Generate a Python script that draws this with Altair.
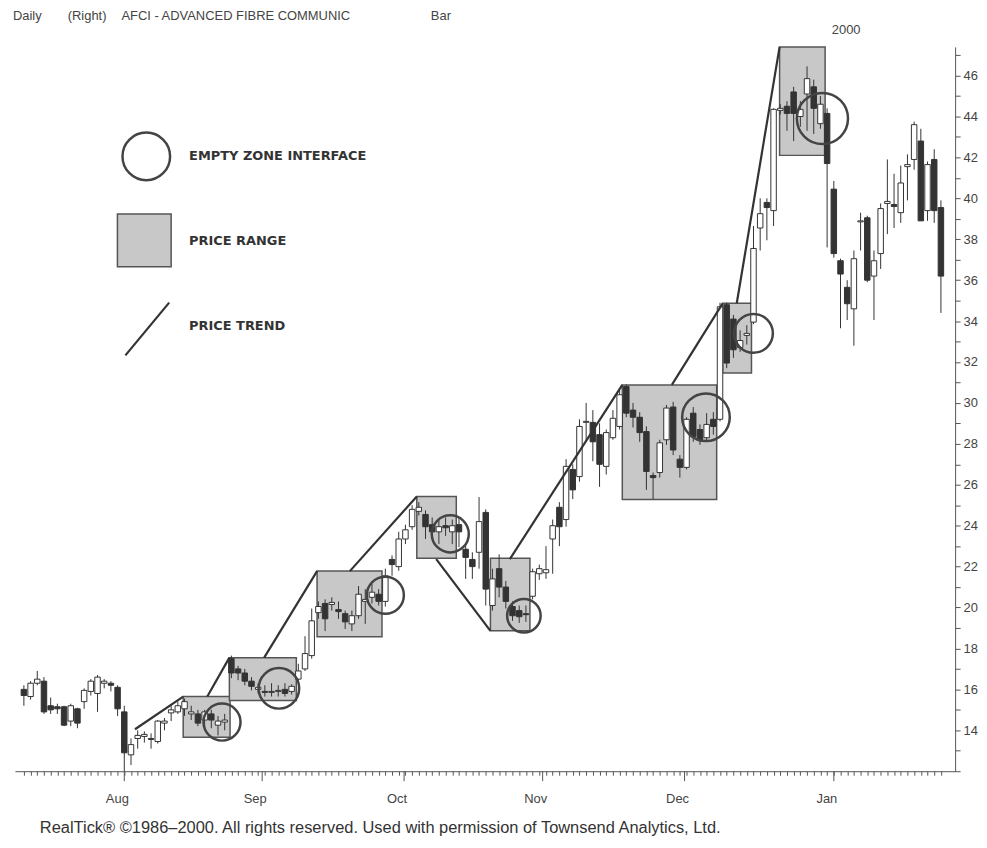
import math
import altair as alt
import pandas as pd

# ---------------- data ----------------
day_index = list(range(138))
opens = [16.0, 15.65, 16.3, 16.4, 15.2, 15.15, 15.15, 14.45, 15.05, 15.4,
         15.9, 15.8, 16.3, 16.3, 16.1, 14.9, 12.8, 13.6, 13.7, 13.55,
         13.45, 14.35, 14.85, 14.9, 15.05, 14.8, 14.8, 14.5, 14.8, 14.25,
         14.4, 17.5, 17.0, 16.8, 16.4, 16.0, 15.9, 15.85, 15.9, 16.0,
         15.9, 16.5, 17.0, 17.65, 19.75, 20.2, 20.15, 19.9, 19.7, 19.2,
         19.6, 20.3, 20.5, 20.65, 20.3, 22.35, 22.0, 23.35, 23.95, 24.7,
         24.55, 24.05, 23.7, 24.0, 23.7, 24.05, 22.85, 22.35, 22.7, 24.65,
         20.1, 21.9, 21.0, 20.05, 19.85, 19.7, 20.55, 21.65, 21.7, 23.35,
         24.9, 24.3, 26.75, 26.4, 29.05, 29.05, 28.45, 26.9, 28.3, 28.85,
         30.8, 29.65, 29.3, 28.6, 26.45, 26.6, 28.2, 29.8, 27.25, 26.85,
         29.5, 28.7, 28.3, 29.2, 29.2, 34.8, 34.1, 32.7, 33.3, 33.95,
         38.55, 39.8, 39.4, 44.3, 44.5, 45.2, 44.0, 45.1, 45.45, 43.65,
         44.15, 40.45, 36.95, 35.65, 34.6, 38.85, 39.05, 36.2, 37.3, 39.75,
         39.7, 39.3, 41.55, 41.9, 42.8, 39.4, 41.9, 39.55]
highs = [16.2, 16.4, 16.9, 16.6, 15.6, 15.3, 15.2, 15.3, 15.1, 16.05,
         16.5, 16.7, 16.5, 16.4, 16.2, 15.2, 13.6, 14.0, 13.95, 13.85,
         14.5, 14.6, 15.2, 15.4, 15.55, 15.2, 15.0, 15.0, 15.0, 14.7,
         14.8, 17.65, 17.15, 17.0, 16.6, 16.3, 16.2, 16.3, 16.2, 16.3,
         16.25, 17.25, 18.6, 19.95, 20.3, 20.4, 20.5, 20.3, 19.85, 19.85,
         21.05, 20.9, 21.15, 20.9, 21.9, 22.55, 23.7, 24.05, 25.0, 25.15,
         24.75, 24.4, 24.3, 24.4, 24.3, 24.4, 23.05, 22.7, 25.4, 24.8,
         21.9, 22.6, 21.3, 20.3, 20.1, 20.1, 21.9, 22.1, 23.0, 24.3,
         25.15, 27.25, 27.0, 29.2, 30.0, 29.65, 29.0, 28.7, 29.65, 30.65,
         30.9, 30.0, 29.55, 28.85, 26.6, 28.2, 29.9, 30.05, 27.45, 29.3,
         29.8, 28.95, 29.5, 29.55, 34.9, 34.9, 34.3, 33.55, 33.8, 38.65,
         40.0, 40.0, 44.4, 44.6, 44.75, 45.45, 44.75, 46.45, 45.8, 45.0,
         44.4, 40.85, 37.05, 36.0, 37.45, 39.3, 39.15, 37.45, 39.75, 41.9,
         41.2, 41.6, 42.15, 43.75, 43.4, 41.8, 42.4, 39.9]
lows = [15.2, 15.5, 16.2, 14.8, 14.8, 14.8, 14.2, 14.2, 14.1, 15.05,
        15.7, 14.9, 16.05, 15.9, 14.7, 12.0, 12.3, 13.1, 13.4, 13.1,
        13.35, 14.0, 14.45, 14.8, 14.7, 14.5, 14.2, 14.2, 14.1, 13.75,
        14.0, 16.55, 16.45, 16.2, 15.95, 15.8, 15.65, 15.65, 15.65, 15.65,
        15.75, 16.3, 16.9, 17.5, 19.45, 18.85, 19.85, 19.45, 18.95, 18.85,
        19.45, 19.2, 20.2, 20.1, 20.05, 21.55, 21.8, 23.1, 23.8, 24.5,
        23.35, 23.35, 23.1, 23.5, 23.1, 22.95, 21.4, 21.4, 21.9, 20.1,
        19.85, 20.5, 19.95, 19.35, 19.25, 19.3, 20.4, 21.35, 21.4, 21.65,
        23.0, 23.95, 25.3, 26.15, 28.1, 27.15, 25.9, 26.5, 28.2, 28.7,
        29.3, 28.8, 28.1, 25.75, 25.3, 26.35, 27.95, 27.45, 26.35, 26.75,
        28.1, 27.95, 28.1, 28.45, 29.1, 31.7, 32.2, 32.5, 32.85, 33.85,
        37.45, 37.95, 38.65, 44.1, 43.3, 42.8, 43.5, 43.3, 43.15, 43.4,
        37.6, 37.1, 33.65, 34.05, 32.8, 37.45, 35.9, 34.05, 36.55, 38.25,
        38.55, 38.8, 39.9, 41.4, 38.9, 38.9, 38.8, 34.4]
closes = [15.7, 16.3, 16.5, 14.9, 15.0, 15.05, 14.25, 15.2, 14.35, 15.95,
          16.4, 16.6, 16.4, 16.2, 15.05, 12.9, 13.3, 13.75, 13.8, 13.6,
          14.45, 14.45, 15.0, 15.2, 15.4, 14.9, 14.35, 14.9, 14.5, 14.45,
          14.5, 16.8, 16.8, 16.4, 16.15, 16.1, 15.85, 15.9, 15.95, 15.8,
          16.15, 16.9, 17.75, 19.35, 20.05, 19.45, 20.25, 19.8, 19.3, 19.6,
          20.65, 20.4, 20.75, 20.3, 21.55, 22.1, 23.35, 23.8, 24.8, 24.9,
          23.95, 23.7, 23.95, 23.9, 24.0, 23.7, 22.45, 22.0, 24.2, 20.9,
          21.4, 21.0, 20.3, 19.6, 19.55, 19.65, 21.75, 21.9, 21.85, 24.0,
          23.95, 26.9, 25.75, 28.85, 29.1, 28.1, 27.0, 28.55, 29.25, 30.4,
          29.5, 29.3, 28.55, 26.65, 26.35, 28.05, 29.75, 27.7, 26.85, 29.2,
          28.35, 28.2, 28.95, 28.85, 34.7, 31.95, 32.6, 33.05, 33.4, 37.55,
          39.25, 39.55, 44.35, 44.4, 44.15, 44.15, 44.35, 45.85, 44.4, 44.6,
          41.7, 37.3, 36.3, 34.85, 37.05, 38.9, 36.0, 36.95, 39.5, 39.85,
          39.6, 40.75, 41.65, 43.6, 38.9, 41.65, 39.4, 36.2]

month_labels = ["Aug", "Sep", "Oct", "Nov", "Dec", "Jan"]
month_starts = [15.0, 35.6, 56.8, 77.5, 98.7, 121.0]
y_tick_values = [v / 2 for v in range(24, 95)]

# price-range boxes (day index / price)
box_start = [23.8, 30.7, 43.8, 58.7, 69.7, 89.4, 104.4, 112.9]
box_end = [30.8, 40.7, 53.5, 64.6, 75.6, 103.5, 108.7, 119.7]
box_low = [13.66, 15.46, 18.57, 22.41, 18.86, 25.28, 31.46, 42.1]
box_high = [15.65, 17.55, 21.78, 25.43, 22.41, 30.88, 34.87, 47.4]

# empty-zone-interface circles (centre: day index / price)
circle_day = [29.6, 38.1, 54.0, 63.7, 74.7, 101.9, 109.0, 119.3]
circle_price = [14.4, 16.05, 20.6, 23.6, 19.6, 29.3, 33.4, 43.9]

# price-trend segments
trend_day1 = [16.6, 27.4, 35.9, 48.7, 61.6, 72.6, 96.8, 106.5]
trend_price1 = [14.05, 15.65, 17.55, 21.78, 22.37, 22.37, 30.88, 34.87]
trend_day2 = [23.8, 30.7, 43.8, 58.7, 69.7, 89.4, 104.4, 112.9]
trend_price2 = [15.65, 17.55, 21.78, 25.43, 18.86, 30.88, 34.87, 47.4]

# ---------------- styling ----------------
circle_radius_px = [21, 23, 21, 21, 19, 27, 22, 29]
W, H = 945, 728
INK = "#333333"
FONT = "Liberation Sans"
NARROW = "Liberation Sans Narrow, Liberation Sans, Arial"

xs = alt.Scale(domain=[-0.59, 138.38], nice=False, zero=False)
ys = alt.Scale(domain=[12.0, 47.4], nice=False, zero=False)
x_axis = alt.Axis(values=day_index, labels=False, tickSize=4, tickColor="#555",
                  domainColor="#555", grid=False, title=None, orient="bottom")
y_axis = alt.Axis(orient="right", values=y_tick_values, format="d",
                  labelExpr="(datum.value % 2 == 0 && datum.value > 13) ? datum.label : ''",
                  labelOverlap=False, tickSize=5, tickColor="#555", domainColor="#555",
                  labelColor="#444", labelFont=NARROW, labelFontSize=13, labelPadding=3,
                  grid=False, title=None)


def X(f):
    return alt.X(f, type="quantitative", scale=xs, axis=x_axis)


def Y(f):
    return alt.Y(f, type="quantitative", scale=ys, axis=y_axis)


candles = pd.DataFrame({"i": day_index, "o": opens, "h": highs, "l": lows, "c": closes})
candles["blo"] = candles[["o", "c"]].min(axis=1)
candles["bhi"] = candles[["o", "c"]].max(axis=1)
candles["dir"] = ["up" if c >= o else "down" for o, c in zip(opens, closes)]

boxes = pd.DataFrame({"x1": box_start, "x2": box_end, "y1": box_low, "y2": box_high})
circles = pd.DataFrame({"x": circle_day, "y": circle_price,
                        "s": [math.pi * r * r for r in circle_radius_px]})
trends = pd.DataFrame({"x1": trend_day1, "y1": trend_price1, "x2": trend_day2, "y2": trend_price2})
months = pd.DataFrame({"m": month_labels, "x": month_starts})

box_layer = alt.Chart(boxes).mark_rect(fill="#c8c8c8", stroke="#555", strokeWidth=1.5).encode(
    x=X("x1"), x2="x2", y=Y("y1"), y2="y2")

wicks = alt.Chart(candles).mark_rule(color=INK, strokeWidth=1).encode(
    x=X("i"), y=Y("l"), y2="h")

bodies = alt.Chart(candles).mark_bar(size=5.5, stroke=INK, strokeWidth=1).encode(
    x=X("i"), y=Y("blo"), y2="bhi",
    fill=alt.Fill("dir:N", scale=alt.Scale(domain=["up", "down"], range=["white", "#333333"]),
                  legend=None))

trend_layer = alt.Chart(trends).mark_rule(color=INK, strokeWidth=2.2).encode(
    x=X("x1"), y=Y("y1"), x2="x2", y2="y2")

circle_layer = alt.Chart(circles).mark_point(shape="circle", filled=False, color="#444",
                                             strokeWidth=2.5, opacity=1).encode(
    x=X("x"), y=Y("y"), size=alt.Size("s:Q", scale=None))

month_ticks = alt.Chart(months).mark_rule(color="#555", strokeWidth=1).encode(
    x=X("x"), y=alt.value(H), y2=alt.value(H + 10))
month_text = alt.Chart(months).mark_text(font=NARROW, fontSize=13, color="#444", dx=-7,
                                         baseline="middle").encode(
    x=X("x"), y=alt.value(H + 28), text="m:N")

one = pd.DataFrame({"a": [0]})


def label(txt, x, y, size=13, weight="normal", font=FONT, color="#444"):
    return alt.Chart(one).mark_text(text=txt, align="left", baseline="middle", font=font,
                                    fontSize=size, fontWeight=weight, color=color).encode(
        x=alt.value(x), y=alt.value(y))


header = [
    label("Daily", -2, -31),
    label("(Right)", 53, -31),
    label("AFCI - ADVANCED FIBRE COMMUNIC", 107, -31),
    label("Bar", 418, -31),
    label("2000", 821, -17),
    label("RealTick\u00ae \u00a91986\u20132000. All rights reserved. Used with permission of "
          "Townsend Analytics, Ltd.", 25, 785, size=16.5, font=NARROW, color="#333"),
]

leg_circle = alt.Chart(one).mark_point(shape="circle", filled=False, color="#444",
                                       strokeWidth=2.5, opacity=1).encode(
    x=alt.value(132), y=alt.value(110), size=alt.value(math.pi * 27 * 27))
leg_square = alt.Chart(one).mark_rect(fill="#c8c8c8", stroke="#555", strokeWidth=1.5).encode(
    x=alt.value(103), x2=alt.value(157), y=alt.value(168), y2=alt.value(221))
leg_line = alt.Chart(one).mark_rule(color=INK, strokeWidth=2.2).encode(
    x=alt.value(111), y=alt.value(310), x2=alt.value(155), y2=alt.value(257))
leg_texts = [
    label("EMPTY ZONE INTERFACE", 175, 110, size=13, weight="bold", font="DejaVu Sans", color="#333"),
    label("PRICE RANGE", 175, 195, size=13, weight="bold", font="DejaVu Sans", color="#333"),
    label("PRICE TREND", 175, 281, size=13, weight="bold", font="DejaVu Sans", color="#333"),
]

chart = alt.layer(
    box_layer, wicks, bodies, trend_layer, circle_layer, month_ticks, month_text,
    leg_circle, leg_square, leg_line, *leg_texts, *header
).properties(
    width=W, height=H,
    autosize=alt.AutoSizeParams(type="none"),
    padding={"left": 7, "top": 37, "right": 24, "bottom": 66},
).configure(background="white").configure_view(strokeWidth=0)

chart.save("out.html", embed_options={"renderer": "svg", "actions": False})
